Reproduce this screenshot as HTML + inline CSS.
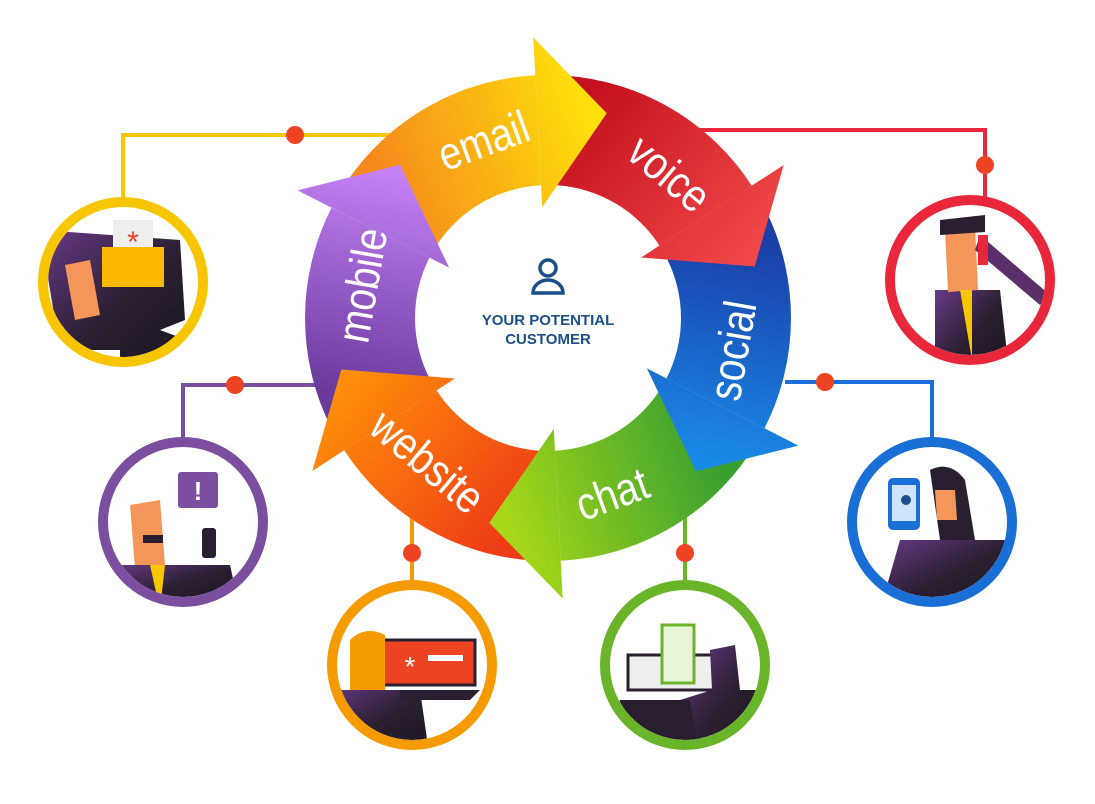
<!DOCTYPE html>
<html><head><meta charset="utf-8"><style>
html,body{margin:0;padding:0;background:#fff;width:1095px;height:804px;overflow:hidden}
svg{display:block}
</style></head><body>
<svg id="s" width="1095" height="804" viewBox="0 0 1095 804" xmlns="http://www.w3.org/2000/svg">
<defs>
<linearGradient id="dk" x1="0" y1="0" x2="1" y2="1"><stop offset="0" stop-color="#6a3a8a"/><stop offset="0.5" stop-color="#2a1f30"/><stop offset="1" stop-color="#1a1420"/></linearGradient>
<clipPath id="c1"><circle cx="123" cy="282" r="75"/></clipPath>
<clipPath id="c2"><circle cx="970" cy="280" r="75"/></clipPath>
<clipPath id="c3"><circle cx="932" cy="522" r="75"/></clipPath>
<clipPath id="c4"><circle cx="685" cy="665" r="75"/></clipPath>
<clipPath id="c5"><circle cx="412" cy="665" r="75"/></clipPath>
<clipPath id="c6"><circle cx="183" cy="522" r="75"/></clipPath>
</defs>
<g fill="none" stroke-width="4">
<polyline points="123,200 123,135 390,135" stroke="#f7c600"/>
<polyline points="700,130 985,130 985,200" stroke="#e8283a"/>
<polyline points="785,382 932,382 932,442" stroke="#1a6fd6"/>
<polyline points="685,515 685,585" stroke="#6ab42a"/>
<polyline points="412,515 412,585" stroke="#f59b00"/>
<polyline points="315,385 183,385 183,442" stroke="#7b4ea0"/>
</g>
<g fill="#ee4423">
<circle cx="295" cy="135" r="9"/><circle cx="985" cy="165" r="9"/><circle cx="825" cy="382" r="9"/>
<circle cx="685" cy="553" r="9"/><circle cx="412" cy="553" r="9"/><circle cx="235" cy="385" r="9"/>
</g>
<g id="ring"></g>
<g fill="none" stroke="#1a4f8a" stroke-width="3.5">
<circle cx="548" cy="268" r="8"/>
<path d="M533,293 a15,13 0 0 1 30,0 z"/>
</g>
<text x="548" y="325" text-anchor="middle" font-family="Liberation Sans, sans-serif" font-weight="bold" font-size="15" fill="#1a4f8a">YOUR POTENTIAL</text>
<text x="548" y="344" text-anchor="middle" font-family="Liberation Sans, sans-serif" font-weight="bold" font-size="15" fill="#1a4f8a">CUSTOMER</text>

<g clip-path="url(#c1)">
<path d="M40,230 L180,240 L185,320 L160,330 L200,345 L200,380 L120,380 L120,350 L60,350 Z" fill="url(#dk)"/>
<path d="M65,265 L90,260 L100,315 L75,320 Z" fill="#f4955a"/>
<rect x="113" y="220" width="40" height="40" fill="#eee"/>
<text x="133" y="252" text-anchor="middle" font-size="30" fill="#ee4423" font-family="Liberation Sans, sans-serif">*</text>
<rect x="102" y="247" width="62" height="40" fill="#fbb900"/>
</g>
<circle cx="123" cy="282" r="80" fill="none" stroke="#f7c600" stroke-width="10"/>
<g clip-path="url(#c2)">
<path d="M935,290 L1000,290 L1010,380 L935,380 Z" fill="url(#dk)"/>
<path d="M945,230 L975,225 L978,290 L948,292 Z" fill="#f4955a"/>
<path d="M940,220 L985,215 L985,232 L940,235 Z" fill="#2a1f30"/>
<path d="M980,235 L1050,295 L1040,305 L975,250 Z" fill="#5a2f6a"/>
<rect x="978" y="235" width="10" height="30" fill="#e8283a"/>
<path d="M960,290 L972,290 L972,360 Z" fill="#f7c600"/>
</g>
<circle cx="970" cy="280" r="80" fill="none" stroke="#e8283a" stroke-width="10"/>
<g clip-path="url(#c3)">
<path d="M900,540 L1010,540 L1020,610 L880,610 Z" fill="url(#dk)"/>
<path d="M930,470 Q950,460 965,480 L975,540 L940,540 Z" fill="#2a1f30"/>
<path d="M935,490 L955,490 L957,520 L937,520 Z" fill="#f4955a"/>
<rect x="888" y="478" width="32" height="52" rx="5" fill="#1a6fd6"/>
<rect x="892" y="485" width="24" height="36" fill="#cfe3fa"/>
<circle cx="906" cy="500" r="5" fill="#1a4f8a"/>
</g>
<circle cx="932" cy="522" r="80" fill="none" stroke="#1a6fd6" stroke-width="10"/>
<g clip-path="url(#c4)">
<rect x="628" y="655" width="90" height="35" fill="#eee" stroke="#2a1f30" stroke-width="3"/>
<rect x="662" y="625" width="32" height="58" fill="#e8f4d8" stroke="#6ab42a" stroke-width="3"/>
<path d="M710,650 L735,645 L740,690 L760,690 L770,760 L690,760 L680,700 L712,690 Z" fill="url(#dk)"/>
<path d="M620,700 L690,700 L700,760 L610,760 Z" fill="#2a1f30"/>
</g>
<circle cx="685" cy="665" r="80" fill="none" stroke="#6ab42a" stroke-width="10"/>
<g clip-path="url(#c5)">
<rect x="380" y="640" width="95" height="45" fill="#ee4423" stroke="#2a1f30" stroke-width="3"/>
<text x="410" y="676" text-anchor="middle" font-size="28" fill="#fff" font-family="Liberation Sans, sans-serif">*</text>
<rect x="428" y="655" width="35" height="6" fill="#fff"/>
<path d="M350,640 Q365,625 385,635 L385,690 L350,690 Z" fill="#f59b00"/>
<path d="M330,690 L420,690 L430,760 L320,760 Z" fill="url(#dk)"/>
<path d="M400,690 L480,690 L470,700 L400,700 Z" fill="#2a1f30"/>
</g>
<circle cx="412" cy="665" r="80" fill="none" stroke="#f59b00" stroke-width="10"/>
<g clip-path="url(#c6)">
<path d="M130,505 L160,500 L165,565 L135,568 Z" fill="#f4955a"/>
<rect x="143" y="535" width="20" height="8" fill="#2a1f30"/>
<path d="M115,565 L230,565 L240,610 L105,610 Z" fill="url(#dk)"/>
<path d="M150,565 L165,565 L160,610 Z" fill="#f7c600"/>
<rect x="178" y="472" width="40" height="36" rx="3" fill="#7b4ea0"/>
<text x="198" y="500" text-anchor="middle" font-size="26" font-weight="bold" fill="#fff" font-family="Liberation Sans, sans-serif">!</text>
<rect x="202" y="528" width="14" height="30" rx="3" fill="#2a1f30"/>
</g>
<circle cx="183" cy="522" r="80" fill="none" stroke="#7b4ea0" stroke-width="10"/>
</svg>
<script>
(function(){
var NS="http://www.w3.org/2000/svg",cx=548,cy=318,ro=243,ri=133,rm=(ro+ri)/2;
var svg=document.getElementById('s'),ring=document.getElementById('ring'),defs=svg.querySelector('defs');
function P(r,a){a=a*Math.PI/180;return [cx+r*Math.sin(a),cy-r*Math.cos(a)];}
function f(p){return p[0].toFixed(1)+','+p[1].toFixed(1);}
var segs=[
 {c:-20,t:'email',g:['#f58a1c','#ffe10a'],rot:-20},
 {c:40,t:'voice',g:['#c5121e','#f04848'],rot:40},
 {c:100,t:'social',g:['#1a3fa8','#1a8ae8'],rot:-80},
 {c:160,t:'chat',g:['#3aa030','#a8d818'],rot:-20},
 {c:220,t:'website',g:['#ee3d16','#ff8e0a'],rot:40},
 {c:280,t:'mobile',g:['#6a3a9c','#c480f5'],rot:-80}];
var bodies=[],heads=[],texts=[];
segs.forEach(function(s,i){
 var a0=s.c-36,a1=s.c+17;
 var gid='g'+i,lg=document.createElementNS(NS,'linearGradient');
 var p0=P(rm,a0),p1=P(rm,a1+20);
 lg.setAttribute('id',gid);lg.setAttribute('gradientUnits','userSpaceOnUse');
 lg.setAttribute('x1',p0[0]);lg.setAttribute('y1',p0[1]);lg.setAttribute('x2',p1[0]);lg.setAttribute('y2',p1[1]);
 lg.innerHTML='<stop offset="0" stop-color="'+s.g[0]+'"/><stop offset="1" stop-color="'+s.g[1]+'"/>';
 defs.appendChild(lg);
 var d='M'+f(P(ro,a0))+' A'+ro+','+ro+' 0 0 1 '+f(P(ro,a1))+' L'+f(P(ri,a1))+' A'+ri+','+ri+' 0 0 0 '+f(P(ri,a0))+' Z';
 bodies.push('<path d="'+d+'" fill="url(#'+gid+')"/>');
 var h='M'+f(P(ri-22,a1))+' L'+f(P(ro+38,a1))+' L'+f(P(rm+25,a1+19))+' Z';
 heads.push('<path d="'+h+'" fill="url(#'+gid+')"/>');
 var tp=P(rm,s.c);
 texts.push('<text x="0" y="0" transform="translate('+tp[0]+' '+tp[1]+') rotate('+s.rot+') scale(0.85,1)" text-anchor="middle" dominant-baseline="central" font-family="Liberation Sans Narrow, Liberation Sans, sans-serif" font-size="46" fill="#fff">'+s.t+'</text>');
});
ring.innerHTML=bodies.join('')+heads.join('')+texts.join('');
})();
</script>
</body></html>
